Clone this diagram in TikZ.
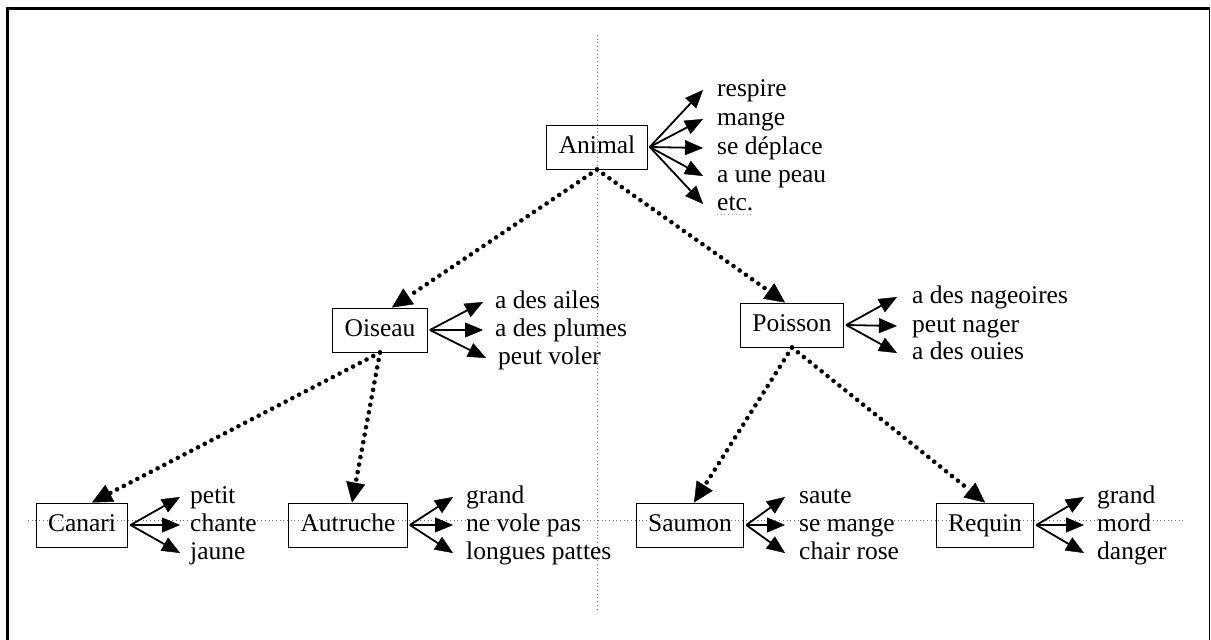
\documentclass[tikz,border=0pt]{standalone}
\usepackage{fontspec}
\setmainfont{Liberation Serif}
\usetikzlibrary{arrows.meta}
\begin{document}
\begin{tikzpicture}[x=1pt,y=-1pt,
  txt/.style={font=\fontsize{25.5}{30}\selectfont},
  box/.style={txt, draw, line width=1pt, inner xsep=12pt, inner ysep=0pt, minimum height=44pt, text height=17pt, text depth=4pt},
  lbl/.style={txt, anchor=west, inner sep=0pt, text height=18pt, text depth=5pt},
  fan/.style={line width=1.8pt, -{Triangle[length=18pt,width=15pt,line width=0.4pt]}},
  isa/.style={line width=4.6pt, line cap=round, dash pattern=on 0pt off 7.6pt, -{Triangle[length=20pt,width=19pt,line width=0.4pt]}},
  guide/.style={draw=black!55, line width=0.9pt, dash pattern=on 0.9pt off 2.8pt}
]
\useasboundingbox (0,0) rectangle (1211,640);
% frame
\draw[line width=3pt] (7.5,640) -- (7.5,8.5) -- (1209.5,8.5);
\draw[line width=1.5pt] (1209.5,8.5) -- (1209.5,640);
% guide lines
\coordinate (vtop) at (597,35);
\coordinate (vbot) at (597,610);
\coordinate (hleft) at (28,520);
\coordinate (hright) at (1185,520);
\draw[guide] (vtop) -- (vbot);
\draw[guide] (hleft) -- (hright);

% boxes
\node[box] (animal) at (597,147) {Animal};
\node[box] (oiseau) at (380,330) {Oiseau};
\node[box] (poisson) at (792,325) {Poisson};
\node[box] (canari) at (82,525) {Canari};
\node[box] (autruche) at (348,525) {Autruche};
\node[box] (saumon) at (690,525) {Saumon};
\node[box] (requin) at (985,525) {Requin};

% Animal labels
\node[lbl] (a1) at (717,90) {respire};
\node[lbl] (a2) at (717,119) {mange};
\node[lbl] (a3) at (717,148) {se déplace};
\node[lbl] (a4) at (717,176) {a une peau};
\node[lbl] (a5) at (717,204) {etc.};
\draw[guide, draw=black!35] ([yshift=-4pt]a5.base west) -- ([yshift=-4pt]a5.base east);
\foreach \t in {a1,a2,a3,a4,a5}
  \draw[fan] ([xshift=2pt]animal.east) -- ([xshift=-14pt]\t.west);

% Oiseau labels
\node[lbl] (o1) at (495,302) {a des ailes};
\node[lbl] (o2) at (495,330) {a des plumes};
\node[lbl] (o3) at (498,358) {peut voler};
\foreach \t in {o1,o2,o3}
  \draw[fan] ([xshift=2pt]oiseau.east) -- ([xshift=-12pt]\t.west);

% Poisson labels
\node[lbl] (p1) at (912,297) {a des nageoires};
\node[lbl] (p2) at (912,326) {peut nager};
\node[lbl] (p3) at (912,353) {a des ouies};
\foreach \t in {p1,p2,p3}
  \draw[fan] ([xshift=2pt]poisson.east) -- ([xshift=-15pt]\t.west);

% Canari labels
\node[lbl] (c1) at (190,497) {petit};
\node[lbl] (c2) at (190,525) {chante};
\node[lbl] (c3) at (190,553) {jaune};
\foreach \t in {c1,c2,c3}
  \draw[fan] ([xshift=2pt]canari.east) -- ([xshift=-10pt]\t.west);

% Autruche labels
\node[lbl] (u1) at (466,497) {grand};
\node[lbl] (u2) at (466,525) {ne vole pas};
\node[lbl] (u3) at (466,553) {longues pattes};
\foreach \t in {u1,u2,u3}
  \draw[fan] ([xshift=2pt]autruche.east) -- ([xshift=-13pt]\t.west);

% Saumon labels
\node[lbl] (s1) at (799,497) {saute};
\node[lbl] (s2) at (799,525) {se mange};
\node[lbl] (s3) at (799,553) {chair rose};
\foreach \t in {s1,s2,s3}
  \draw[fan] ([xshift=2pt]saumon.east) -- ([xshift=-14pt]\t.west);

% Requin labels
\node[lbl] (r1) at (1097,497) {grand};
\node[lbl] (r2) at (1097,525) {mord};
\node[lbl] (r3) at (1097,553) {danger};
\foreach \t in {r1,r2,r3}
  \draw[fan] ([xshift=2pt]requin.east) -- ([xshift=-13pt]\t.west);

% is-a connectors
\draw[isa] (animal.south) -- ([xshift=12pt]oiseau.north);
\draw[isa] (animal.south) -- ([xshift=-7pt]poisson.north);
\draw[isa] (oiseau.south) -- ([xshift=10pt]canari.north);
\draw[isa] (oiseau.south) -- ([xshift=4pt]autruche.north);
\draw[isa] (poisson.south) -- ([xshift=4pt]saumon.north);
\draw[isa] (poisson.south) -- ([xshift=0pt]requin.north);
\end{tikzpicture}
\end{document}
